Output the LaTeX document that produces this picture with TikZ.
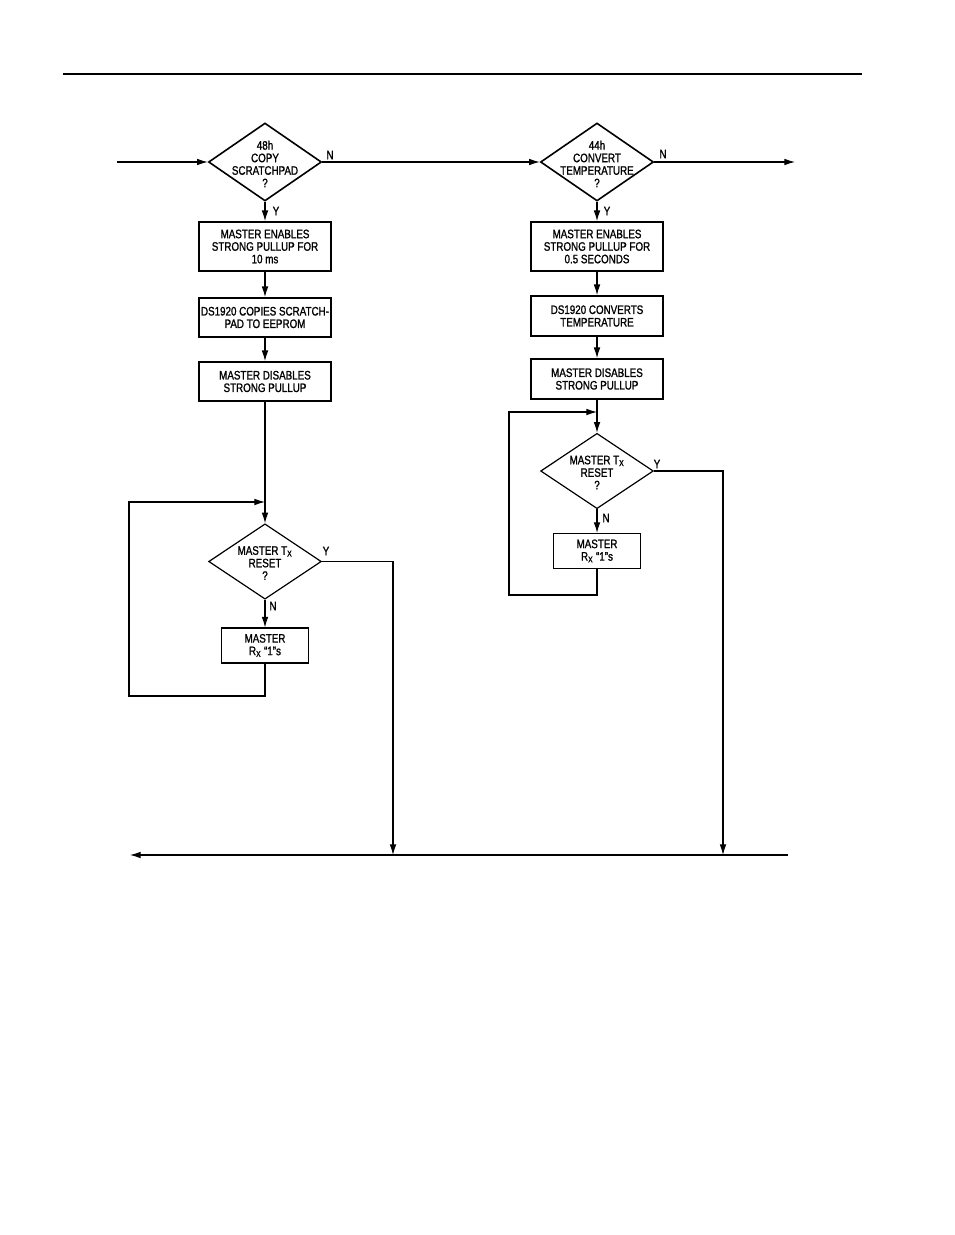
\documentclass[tikz,border=0pt]{standalone}
\usepackage{fontspec}
\newfontfamily\chartfont{Liberation Sans}[FakeStretch=0.8,FakeBold=1.2]
\usetikzlibrary{shapes.geometric,arrows.meta}

\begin{document}
\begin{tikzpicture}[x=0.75pt,y=-0.75pt,
    every node/.style={font=\chartfont\fontsize{9.2}{9.4}\selectfont},
    bigbox/.style={draw,line width=1.3pt,inner sep=0pt,align=center,minimum width=99pt},
    smallbox/.style={draw,line width=1.1pt,inner sep=0pt,align=center,minimum width=65pt,minimum height=26pt},
    decision/.style={diamond,draw,line width=1.2pt,inner sep=0pt,minimum width=84.75pt,minimum height=58.5pt},
    test/.style={diamond,draw,line width=0.9pt,inner sep=0pt,minimum width=84.5pt,minimum height=56.5pt},
    dtext/.style={align=center,inner sep=0pt},
    tag/.style={inner sep=0pt},
    flow/.style={line width=0.8pt,-{Latex[length=8pt,width=5pt]}}]

    % Рамка страницы
    \useasboundingbox (0,0) rectangle (954,1235);
    \draw[line width=1.5pt] (63,74) -- (862,74);

    % Левая ветка: 48h
    \node[decision] (copyq) at (265,162) {};
    \node[dtext] (copyqt) at (265,164) {48h\\COPY\\SCRATCHPAD\\?};
    \node[bigbox,minimum height=36.75pt] (enA) at (265,246.5) {MASTER ENABLES\\STRONG PULLUP FOR\\10 ms};
    \node[bigbox,minimum height=29.25pt] (copy) at (265,317.5) {DS1920 COPIES SCRATCH-\\PAD TO EEPROM};
    \node[bigbox,minimum height=29.25pt] (disA) at (265,381.5) {MASTER DISABLES\\STRONG PULLUP};
    \node[test] (txA) at (265,561.5) {};
    \node[dtext] (txAt) at (265,563) {MASTER T\textsubscript{X}\\RESET\\?};
    \node[smallbox] (rxA) at (265,645.5) {MASTER\\R\textsubscript{X} “1”s};

    % Правая ветка: 44h
    \node[decision] (convq) at (597,162) {};
    \node[dtext] (convqt) at (597,164) {44h\\CONVERT\\TEMPERATURE\\?};
    \node[bigbox,minimum height=36.75pt] (enB) at (597,246.5) {MASTER ENABLES\\STRONG PULLUP FOR\\0.5 SECONDS};
    \node[bigbox,minimum height=30pt] (conv) at (597,316) {DS1920 CONVERTS\\TEMPERATURE};
    \node[bigbox,minimum height=30pt] (disB) at (597,379) {MASTER DISABLES\\STRONG PULLUP};
    \node[test] (txB) at (597,471) {};
    \node[dtext] (txBt) at (597,472.5) {MASTER T\textsubscript{X}\\RESET\\?};
    \node[smallbox] (rxB) at (597,551) {MASTER\\R\textsubscript{X} “1”s};

    % Опорные точки
    \coordinate (entry) at (117,162);
    \coordinate (exit) at (795,162);
    \coordinate (joinA) at (265,502);
    \coordinate (loopA) at (129,696);
    \coordinate (joinB) at (597,412);
    \coordinate (loopB) at (509,595);
    \coordinate (busA) at (393,855);
    \coordinate (busB) at (723,855);
    \coordinate (busR) at (788,855);
    \coordinate (busL) at (130,855);

    % Связи
    \draw[flow] (entry) -- (copyq.west);
    \draw[flow] (copyq.east) -- (convq.west);
    \draw[flow] (convq.east) -- (exit);
    \draw[flow] (copyq.south) -- (enA.north);
    \draw[flow] (enA.south) -- (copy.north);
    \draw[flow] (copy.south) -- (disA.north);
    \draw[flow] (disA.south) -- (txA.north);
    \draw[flow] (txA.south) -- (rxA.north);
    \draw[flow] (rxA.south) |- (loopA) |- (joinA);
    \draw[flow] (txA.east) -| (busA);
    \draw[flow] (convq.south) -- (enB.north);
    \draw[flow] (enB.south) -- (conv.north);
    \draw[flow] (conv.south) -- (disB.north);
    \draw[flow] (disB.south) -- (txB.north);
    \draw[flow] (txB.south) -- (rxB.north);
    \draw[flow] (rxB.south) |- (loopB) |- (joinB);
    \draw[flow] (txB.east) -| (busB);
    \draw[flow] (busR) -- (busL);

    % Подписи Y/N
    \node[tag] (nA) at (330,155) {N};
    \node[tag] (yA) at (276,211) {Y};
    \node[tag] (yA2) at (326,551) {Y};
    \node[tag] (nA2) at (273,606) {N};
    \node[tag] (nB) at (663,154) {N};
    \node[tag] (yB) at (607,211) {Y};
    \node[tag] (yB2) at (657,464) {Y};
    \node[tag] (nB2) at (606,518) {N};
\end{tikzpicture}
\end{document}
